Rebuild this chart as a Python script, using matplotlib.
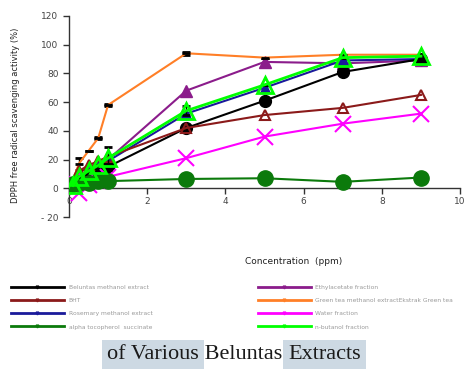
import matplotlib.pyplot as plt
from matplotlib.lines import Line2D

# concentrations (ppm)
conc = [0.1, 0.25, 0.5, 0.75, 1, 3, 5, 7, 9]

# DPPH scavenging activity (%)
beluntas_meoh = [3, 6, 9, 12, 15, 42, 61, 81, 90]
bht = [4, 12, 16, 19, 22, 42, 51, 56, 65]
rosemary = [2, 7, 11, 15, 19, 52, 70, 89, 90]
tocopherol = [3, 4, 4, 5, 5, 6.5, 7, 4.5, 7.5]
ethylacetate = [3, 8, 12, 16, 20, 68, 88, 87, 89]
greentea = [5, 17, 26, 35, 58, 94, 91, 93, 93]
water = [5, -3, 2, 5, 8, 21, 36, 45, 52]
butanol = [2, 8, 12, 16, 21, 54, 72, 91, 92]

# error bars read from the caps
greentea_err = [0, 4, 0, 1, 1, 1, 0, 0, 0]
butanol_err = [0, 0, 0, 0, 8, 3, 0, 0, 0]

labels = ['Beluntas methanol extract', 'BHT', 'Rosemary methanol extract',
          'alpha tocopherol  succinate', 'Ethylacetate fraction',
          'Green tea methanol extractEkstrak Green tea', 'Water fraction',
          'n-butanol fraction']

fig = plt.figure(figsize=(4.69, 3.71), dpi=100)
ax = fig.add_axes([0.147, 0.415, 0.834, 0.542])

# orange green tea, with black dash markers
ax.errorbar(conc, greentea, yerr=greentea_err, color='#ff7f27', lw=1.5,
            marker='_', ms=6, mew=2, mec='black', ecolor='black',
            elinewidth=1, capsize=3, zorder=3)
ax.plot(conc, ethylacetate, color='#8b1c8b', lw=1.5, marker='^', ms=9, zorder=3)
ax.plot(conc, rosemary, color='#1a1a9a', lw=1.5, marker='^', ms=7, zorder=3)
ax.plot(conc, beluntas_meoh, color='black', lw=1.5, marker='o', ms=8.5, zorder=4)
ax.plot(conc, bht, color='#8b1a1a', lw=1.5, marker='^', ms=7, mfc='none', mew=1.5, zorder=4)
ax.plot(conc, water, color='#ff00ff', lw=1.5, marker='x', ms=12, mew=1.5, zorder=4)
ax.plot(conc, tocopherol, color='#0b7a0b', lw=1.5, marker='o', ms=11, zorder=4)
ax.errorbar(conc, butanol, yerr=butanol_err, color='#00ff00', lw=2,
            marker='^', ms=11, mfc='none', mew=2, ecolor='black',
            elinewidth=1, capsize=3, zorder=5)

ax.set_xlim(0, 10)
ax.set_ylim(-20, 120)
ax.set_xticks([0, 2, 4, 6, 8, 10])
ax.set_yticks(range(-20, 121, 20))
ax.set_yticklabels(['- 20', '0', '20', '40', '60', '80', '100', '120'])
ax.spines['bottom'].set_position(('data', 0))
ax.spines['top'].set_visible(False)
ax.spines['right'].set_visible(False)
for s in ['left', 'bottom']:
    ax.spines[s].set_color('#333333')
    ax.spines[s].set_linewidth(1)
ax.tick_params(axis='both', labelsize=6.5, colors='#333333', length=4, width=1)
ax.tick_params(axis='x', direction='out', pad=2)
for t in ax.get_xticklabels() + ax.get_yticklabels():
    t.set_color('#444444')

fig.text(0.032, 0.69, 'DPPH free radical scavenging activity (%)', rotation=90,
         ha='center', va='center', fontsize=6, color='#222222')
fig.text(0.625, 0.295, 'Concentration  (ppm)', ha='center', va='center',
         fontsize=6.5, color='#222222')

# legend below the plot
colors = ['black', '#8b1a1a', '#1a1a9a', '#0b7a0b',
          '#8b1c8b', '#ff7f27', '#ff00ff', '#00ff00']
handles = [Line2D([0], [0], color=c, lw=2, marker='v', ms=2) for c in colors]
fig.legend(handles, labels, ncol=2, loc='upper left', bbox_to_anchor=(0.015, 0.243),
           fontsize=4.3, frameon=False, handlelength=8.8, labelspacing=1.33,
           columnspacing=17.7, labelcolor='#999999', handletextpad=0.8,
           borderpad=0.2)

# caption fragment, drawn word group by word group
kw = dict(fontsize=16, family='Liberation Serif', va='center', color='#1a1a1a')
hl = dict(facecolor='#cdd9e3', edgecolor='none', pad=3.5)
pieces = [('of Various', True), (' Beluntas ', False), ('Extracts', True)]
fig.canvas.draw()
r = fig.canvas.get_renderer()
widths = []
for s, _ in pieces:
    tmp = fig.text(0, 0, s, **kw)
    widths.append(tmp.get_window_extent(r).width)
    tmp.remove()
x = 234 - sum(widths) / 2
for (s, h), w in zip(pieces, widths):
    if h:
        fig.text(x / 469, 0.045, s, bbox=hl, **kw)
    else:
        fig.text(x / 469, 0.045, s, **kw)
    x += w

fig.savefig('out.png', dpi=100)
